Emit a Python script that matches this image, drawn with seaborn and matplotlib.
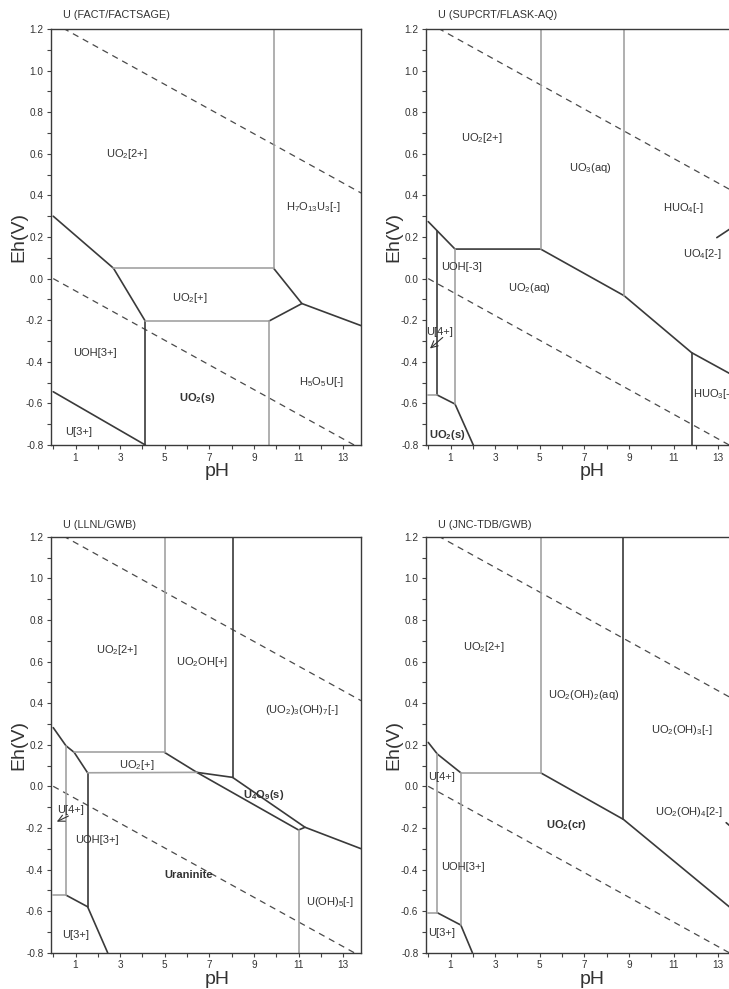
import numpy as np
import pandas as pd
import matplotlib
matplotlib.use("Agg")
import matplotlib.pyplot as plt
import seaborn as sns
from matplotlib.ticker import FixedLocator, MultipleLocator

sns.set_theme(style="ticks")
plt.rcParams["font.family"] = ["Liberation Sans", "DejaVu Sans"]
plt.rcParams.update({
    "mathtext.fontset": "custom",
    "mathtext.rm": "Liberation Sans",
    "mathtext.it": "Liberation Sans:italic",
    "mathtext.bf": "Liberation Sans:bold",
    "mathtext.default": "regular",
})

# ---------------------------------------------------------------- data
panel_titles = ["U (FACT/FACTSAGE)", "U (SUPCRT/FLASK-AQ)",
                "U (LLNL/GWB)", "U (JNC-TDB/GWB)"]

ph_major = [1, 3, 5, 7, 9, 11, 13]
ph_minor = [0, 2, 4, 6, 8, 10, 12]
eh_major = [-0.8, -0.6, -0.4, -0.2, 0.0, 0.2, 0.4, 0.6, 0.8, 1.0, 1.2]

# water stability limits (O2/H2O and H2O/H2)
water_ph = [0.0, 14.0]
o2_eh = [1.23, 0.40]
h2_eh = [0.00, -0.83]

# predominance boundaries: (tone, pH points, Eh points)
fact_bounds = [
    ("dark", [0.0, 2.70, 4.13], [0.30, 0.05, -0.205]),
    ("dark", [4.13, 4.13], [-0.205, -0.80]),
    ("dark", [9.66, 11.15, 13.80], [-0.205, -0.120, -0.226]),
    ("dark", [9.88, 11.15], [0.05, -0.120]),
    ("dark", [0.0, 4.13], [-0.544, -0.80]),
    ("light", [2.70, 9.88], [0.05, 0.05]),
    ("light", [9.88, 9.88], [0.05, 1.20]),
    ("light", [4.13, 9.66], [-0.205, -0.205]),
    ("light", [9.66, 9.66], [-0.205, -0.80]),
]
supcrt_bounds = [
    ("dark", [0.0, 1.20, 5.04, 8.78, 11.81, 13.80],
     [0.274, 0.142, 0.142, -0.082, -0.356, -0.473]),
    ("dark", [0.41, 0.41], [0.229, -0.56]),
    ("dark", [11.81, 11.81], [-0.356, -0.80]),
    ("dark", [0.41, 1.20, 2.02], [-0.56, -0.603, -0.80]),
    ("dark", [12.94, 13.80], [0.197, 0.258]),
    ("light", [0.0, 0.41], [-0.56, -0.56]),
    ("light", [5.04, 5.04], [0.142, 1.20]),
    ("light", [8.78, 8.78], [-0.082, 1.20]),
    ("light", [1.20, 1.20], [0.142, -0.603]),
]
llnl_bounds = [
    ("dark", [0.0, 0.57, 0.94, 1.54], [0.282, 0.195, 0.163, 0.065]),
    ("dark", [4.99, 6.44, 8.04], [0.163, 0.067, 0.043]),
    ("dark", [6.44, 11.0, 11.29, 13.80], [0.067, -0.210, -0.197, -0.300]),
    ("dark", [8.04, 11.29], [0.043, -0.197]),
    ("dark", [8.04, 8.04], [0.043, 1.20]),
    ("dark", [1.54, 1.54], [0.065, -0.579]),
    ("dark", [0.57, 1.54, 2.44], [-0.523, -0.579, -0.80]),
    ("light", [4.99, 4.99], [0.163, 1.20]),
    ("light", [0.94, 4.99], [0.163, 0.163]),
    ("light", [1.54, 6.44], [0.065, 0.067]),
    ("light", [0.57, 0.57], [0.195, -0.523]),
    ("light", [0.0, 0.57], [-0.523, -0.523]),
    ("light", [11.0, 11.0], [-0.210, -0.80]),
]
jnc_bounds = [
    ("dark", [0.0, 0.41, 1.46], [0.211, 0.155, 0.065]),
    ("dark", [5.04, 8.75, 13.80], [0.065, -0.159, -0.606]),
    ("dark", [8.75, 8.75], [-0.159, 1.20]),
    ("dark", [0.41, 1.46, 1.98], [-0.608, -0.667, -0.80]),
    ("dark", [13.36, 13.80], [-0.175, -0.215]),
    ("light", [5.04, 5.04], [0.065, 1.20]),
    ("light", [1.46, 5.04], [0.065, 0.065]),
    ("light", [0.41, 0.41], [0.155, -0.608]),
    ("light", [1.46, 1.46], [0.065, -0.667]),
    ("light", [0.0, 0.41], [-0.608, -0.608]),
]

# species labels: (text, pH, Eh, bold, horizontal alignment)
fact_labels = [
    ("UO$_2$[2+]", 3.30, 0.600, False, "center"),
    ("H$_7$O$_{13}$U$_3$[-]", 11.66, 0.344, False, "center"),
    ("UO$_2$[+]", 6.14, -0.095, False, "center"),
    ("UOH[3+]", 1.88, -0.360, False, "center"),
    ("UO$_\\mathbf{2}$(s)", 6.44, -0.575, True, "center"),
    ("H$_5$O$_5$U[-]", 12.05, -0.496, False, "center"),
    ("U[3+]", 1.13, -0.736, False, "center"),
]
supcrt_labels = [
    ("UO$_2$[2+]", 2.40, 0.675, False, "center"),
    ("UO$_3$(aq)", 7.25, 0.530, False, "center"),
    ("HUO$_4$[-]", 11.44, 0.338, False, "center"),
    ("UO$_4$[2-]", 11.44, 0.120, False, "left"),
    ("UOH[-3]", 1.50, 0.054, False, "center"),
    ("UO$_2$(aq)", 4.52, -0.047, False, "center"),
    ("HUO$_3$[-]", 11.89, -0.555, False, "left"),
    ("UO$_\\mathbf{2}$(s)", 0.83, -0.752, True, "center"),
    ("U[4+]", 0.53, -0.255, False, "center"),
]
llnl_labels = [
    ("UO$_2$[2+]", 2.86, 0.655, False, "center"),
    ("UO$_2$OH[+]", 6.67, 0.600, False, "center"),
    ("(UO$_2$)$_3$(OH)$_7$[-]", 11.15, 0.367, False, "center"),
    ("UO$_2$[+]", 3.72, 0.102, False, "center"),
    ("U$_\\mathbf{4}$O$_\\mathbf{9}$(s)", 9.43, -0.042, True, "center"),
    ("U[4+]", 0.76, -0.114, False, "center"),
    ("UOH[3+]", 1.96, -0.258, False, "center"),
    ("Uraninite", 6.07, -0.427, True, "center"),
    ("U(OH)$_5$[-]", 12.42, -0.555, False, "center"),
    ("U[3+]", 0.99, -0.715, False, "center"),
]
jnc_labels = [
    ("UO$_2$[2+]", 2.47, 0.671, False, "center"),
    ("UO$_2$(OH)$_2$(aq)", 6.95, 0.439, False, "center"),
    ("UO$_2$(OH)$_3$[-]", 11.37, 0.270, False, "center"),
    ("UO$_2$(OH)$_4$[2-]", 11.69, -0.122, False, "center"),
    ("U[4+]", 0.60, 0.046, False, "center"),
    ("UO$_\\mathbf{2}$(cr)", 6.21, -0.186, True, "center"),
    ("UOH[3+]", 1.57, -0.386, False, "center"),
    ("U[3+]", 0.60, -0.707, False, "center"),
]

# leader arrows: (tail pH, tail Eh, head pH, head Eh)
fact_arrows = []
supcrt_arrows = [(0.65, -0.283, 0.08, -0.336)]
llnl_arrows = [(0.68, -0.143, 0.16, -0.170)]
jnc_arrows = []

panels = [
    (fact_bounds, fact_labels, fact_arrows),
    (supcrt_bounds, supcrt_labels, supcrt_arrows),
    (llnl_bounds, llnl_labels, llnl_arrows),
    (jnc_bounds, jnc_labels, jnc_arrows),
]

# ---------------------------------------------------------------- style
TONES = {"dark": "#3a3a3a", "light": "#a2a2a2"}
TEXT = "#333333"
W, H = 729, 989
AX_W, AX_H = 310, 416
corners = [(51, 29), (426, 29), (51, 536.7), (426, 536.7)]
title_gap = [14.0, 14.0, 11.5, 11.5]

fig = plt.figure(figsize=(W / 100, H / 100), dpi=100)


def bounds_frame(bounds):
    rows = []
    for k, (tone, xs, ys) in enumerate(bounds):
        for j, (x, y) in enumerate(zip(xs, ys)):
            rows.append({"seg": k, "order": j, "tone": tone, "pH": x, "Eh": y})
    return pd.DataFrame(rows)


water = pd.DataFrame({
    "seg": ["O2"] * 2 + ["H2"] * 2,
    "pH": water_ph + water_ph,
    "Eh": o2_eh + h2_eh,
})

for i, ((bounds, labels, arrows), (left, top)) in enumerate(zip(panels, corners)):
    ax = fig.add_axes([left / W, 1 - (top + AX_H) / H, AX_W / W, AX_H / H])

    sns.lineplot(data=water, x="pH", y="Eh", units="seg", estimator=None,
                 sort=False, color="#4a4a4a", linewidth=0.9,
                 linestyle=(0, (5, 4)), ax=ax)
    sns.lineplot(data=bounds_frame(bounds), x="pH", y="Eh", units="seg",
                 estimator=None, sort=False, hue="tone", palette=TONES,
                 hue_order=["dark", "light"], linewidth=1.2,
                 legend=False, ax=ax)

    for text, x, y, bold, ha in labels:
        ax.text(x, y, text, ha=ha, va="center", fontsize=8,
                color=TEXT, fontweight="bold" if bold else "normal")
    for x0, y0, x1, y1 in arrows:
        ax.annotate("", xy=(x1, y1), xytext=(x0, y0),
                    arrowprops=dict(arrowstyle="->", color=TEXT, lw=0.8,
                                    shrinkA=0, shrinkB=0))

    ax.set_xlim(-0.1, 13.8)
    ax.set_ylim(-0.8, 1.2)
    ax.xaxis.set_major_locator(FixedLocator(ph_major))
    ax.xaxis.set_minor_locator(FixedLocator(ph_minor))
    ax.yaxis.set_major_locator(FixedLocator(eh_major))
    ax.yaxis.set_minor_locator(MultipleLocator(0.1))
    ax.set_yticklabels([f"{v:.1f}" for v in eh_major])
    ax.tick_params(which="both", direction="out", length=3, width=0.8,
                   color="#444444", labelsize=7.2, labelcolor=TEXT, pad=2.5)
    for sp in ax.spines.values():
        sp.set_color("#3a3a3a")
        sp.set_linewidth(1.0)

    ax.set_xlabel("pH", fontsize=14, color=TEXT)
    ax.set_ylabel("Eh(V)", fontsize=14, color=TEXT)
    ax.xaxis.set_label_coords(0.535, -18 / AX_H)
    ax.yaxis.set_label_coords(-0.075, 0.5)

    ax.text(12 / AX_W, 1 + title_gap[i] / AX_H, panel_titles[i],
            transform=ax.transAxes, ha="left", va="center",
            fontsize=7.8, color=TEXT)

fig.savefig("out.png", dpi=100)
